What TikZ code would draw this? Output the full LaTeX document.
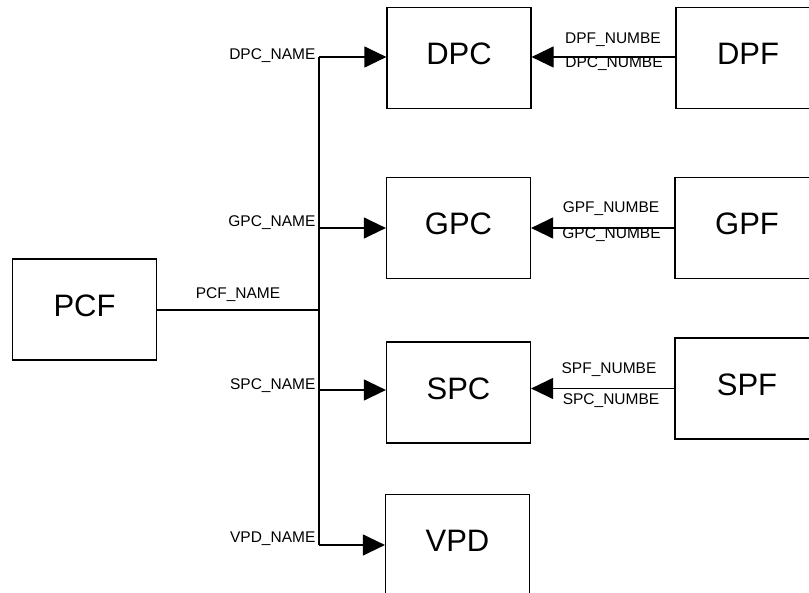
\documentclass[tikz,border=0pt]{standalone}
\usepackage{fontspec}
\setmainfont{Liberation Sans}
\usetikzlibrary{arrows.meta}

\begin{document}
\begin{tikzpicture}[>={Triangle[length=22pt,width=21pt]},x=1pt,y=-1pt,line width=1.2pt,
blk/.style ={rectangle, draw=black, line width=1.2pt, minimum width=144pt, minimum height=101pt, inner sep=0pt, text depth=8pt, font=\fontsize{31}{31}\selectfont},
sig/.style={inner sep=0pt, font=\fontsize{15.5}{16}\selectfont}]

\useasboundingbox (0,0) rectangle (809,593);
\clip (0,0) rectangle (809,593);

\draw (84.5,309.5) node[blk] (PCF) {PCF};
\draw (459,58) node[blk] (DPC) {DPC};
\draw (458.5,228) node[blk] (GPC) {GPC};
\draw (458.5,392.5) node[blk] (SPC) {SPC};
\draw (457.5,545) node[blk] (VPD) {VPD};
\draw (748,58) node[blk] (DPF) {DPF};
\draw (747,388.5) node[blk] (SPF) {SPF};
\draw (747,228) node[blk] (GPF) {GPF};

\coordinate (bD) at (319,57);
\coordinate (bG) at (319,228);
\coordinate (bP) at (319,310);
\coordinate (bS) at (319,390);
\coordinate (bV) at (319,545);

\draw (316,56) node[sig,anchor=east] (nDPC) {DPC\_NAME};
\draw (316,223) node[sig,anchor=east] (nGPC) {GPC\_NAME};
\draw (238,295) node[sig] (nPCF) {PCF\_NAME};
\draw (316,386) node[sig,anchor=east] (nSPC) {SPC\_NAME};
\draw (316,539) node[sig,anchor=east] (nVPD) {VPD\_NAME};
\draw (613,40) node[sig] (nDPF1) {DPF\_NUMBE};
\draw (614,64) node[sig] (nDPF2) {DPC\_NUMBE};
\draw (611,209) node[sig] (nGPF1) {GPF\_NUMBE};
\draw (611.5,234.5) node[sig] (nGPF2) {GPC\_NUMBE};
\draw (609,370) node[sig] (nSPF1) {SPF\_NUMBE};
\draw (611,401) node[sig] (nSPF2) {SPC\_NUMBE};


\draw (PCF.east |- bP)--(bP);
\draw (bD)--(bV);
\draw[->] (bD)--(bD -| DPC.west);
\draw[->] (bG)--(bG -| GPC.west);
\draw[->] (bS)--(bS -| SPC.west);
\draw[->] (bV)--(bV -| VPD.west);
\draw[->] (DPF.west |- bD)--(bD -| DPC.east);
\draw[->] (GPF.west)--(GPF.west -| GPC.east);
\draw[->] (SPF.west)--(SPF.west -| SPC.east);

\end{tikzpicture}
\end{document}
